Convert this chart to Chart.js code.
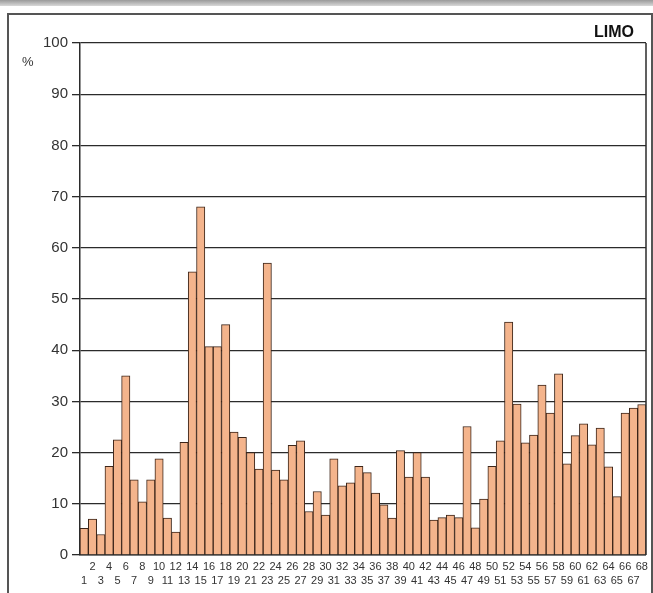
<!DOCTYPE html>
<html>
<head>
<meta charset="utf-8">
<script src="https://cdn.jsdelivr.net/npm/chart.js@4/dist/chart.umd.min.js"></script>
<style>
  html, body { margin: 0; padding: 0; background: #fff; }
  body { width: 653px; height: 593px; position: relative; overflow: hidden; font-family: 'Liberation Sans', Arial, sans-serif; }
  .strip { position: absolute; left: 0; top: 0; width: 653px; height: 6px; background: linear-gradient(#9a9a9a, #d8d8d8); }
  .frame { position: absolute; left: 7px; top: 13px; width: 642px; height: 590px; border: 2px solid #555; border-bottom: none; }
  #wrap { position: absolute; left: 0; top: 0; width: 653px; height: 593px; }
</style>
</head>
<body>
<div class="strip"></div>
<div class="frame"></div>
<div id="wrap"><canvas id="chart"></canvas></div>
<script>
// LIMO — share per sample, %
const categories = [
  '1','2','3','4','5','6','7','8','9','10','11','12','13','14','15','16','17',
  '18','19','20','21','22','23','24','25','26','27','28','29','30','31','32','33','34',
  '35','36','37','38','39','40','41','42','43','44','45','46','47','48','49','50','51',
  '52','53','54','55','56','57','58','59','60','61','62','63','64','65','66','67','68',
];
const limoValues = [
  5.2, 7, 4, 17.3, 22.5, 35, 14.7, 10.4, 14.7, 18.8, 7.2, 4.5, 22, 55.3, 68, 40.7, 40.7,
  45, 24, 23, 20, 16.8, 57, 16.6, 14.7, 21.4, 22.3, 8.5, 12.4, 7.8, 18.8, 13.5, 14.1, 17.3,
  16.1, 12.1, 9.8, 7.2, 20.4, 15.2, 20, 15.2, 6.8, 7.3, 7.8, 7.3, 25.1, 5.3, 10.9, 17.3, 22.3,
  45.5, 29.5, 21.9, 23.4, 33.2, 27.7, 35.4, 17.8, 23.3, 25.6, 21.5, 24.8, 17.2, 11.4, 27.7, 28.7, 29.4,
];
const yTicks = [0, 10, 20, 30, 40, 50, 60, 70, 80, 90, 100];

const GRID = '#2b2b2b';
const TEXT = '#333';

// right border of the plot + "%" and "LIMO" captions
const decorations = {
  id: 'decorations',
  afterDraw(chart) {
    const { ctx, chartArea } = chart;
    ctx.save();
    ctx.strokeStyle = GRID;
    ctx.lineWidth = 1.5;
    ctx.beginPath();
    ctx.moveTo(chartArea.right, chartArea.top);
    ctx.lineTo(chartArea.right, chartArea.bottom);
    ctx.stroke();

    ctx.fillStyle = TEXT;
    ctx.font = '13px "Liberation Sans", Arial, sans-serif';
    ctx.textAlign = 'left';
    ctx.textBaseline = 'middle';
    ctx.fillText('%', 22, chartArea.top + 19);

    ctx.fillStyle = '#111';
    ctx.font = 'bold 16px "Liberation Sans", Arial, sans-serif';
    ctx.textAlign = 'right';
    ctx.fillText('LIMO', chartArea.right - 12, chartArea.top - 10);
    ctx.restore();
  },
};

new Chart(document.getElementById('chart'), {
  type: 'bar',
  data: {
    labels: categories,
    datasets: [{
      label: 'LIMO',
      data: limoValues,
      backgroundColor: '#f4b48c',
      borderColor: '#3c2519',
      borderWidth: 1,
      barPercentage: 1,
      categoryPercentage: 1,
    }],
  },
  options: {
    responsive: true,
    maintainAspectRatio: false,
    animation: false,
    layout: { padding: { top: 43, right: 6, left: 0, bottom: 0 } },
    scales: {
      x: {
        grid: { display: false, drawTicks: false },
        border: { color: GRID, width: 1.5 },
        ticks: {
          autoSkip: false,
          maxRotation: 0,
          minRotation: 0,
          padding: 5,
          color: TEXT,
          font: { size: 11, family: '"Liberation Sans Narrow", "Liberation Sans", Arial, sans-serif', lineHeight: 1.25 },
          // even numbers on the upper row, odd numbers on the lower row
          callback: (v, i) => (i % 2 === 1 ? [categories[i]] : ['', categories[i]]),
        },
        afterFit: (scale) => { scale.height = 38; },
      },
      y: {
        min: 0,
        max: 100,
        afterBuildTicks: (scale) => { scale.ticks = yTicks.map((v) => ({ value: v })); },
        grid: { color: GRID, lineWidth: 1.3, tickLength: 8 },
        border: { color: GRID, width: 1.5 },
        ticks: {
          color: TEXT,
          padding: 4,
          font: { size: 15, family: '"Liberation Sans", Arial, sans-serif' },
        },
        afterFit: (scale) => { scale.width = 80; },
      },
    },
    plugins: {
      legend: { display: false },
      tooltip: { enabled: false },
    },
  },
  plugins: [decorations],
});
</script>
</body>
</html>
